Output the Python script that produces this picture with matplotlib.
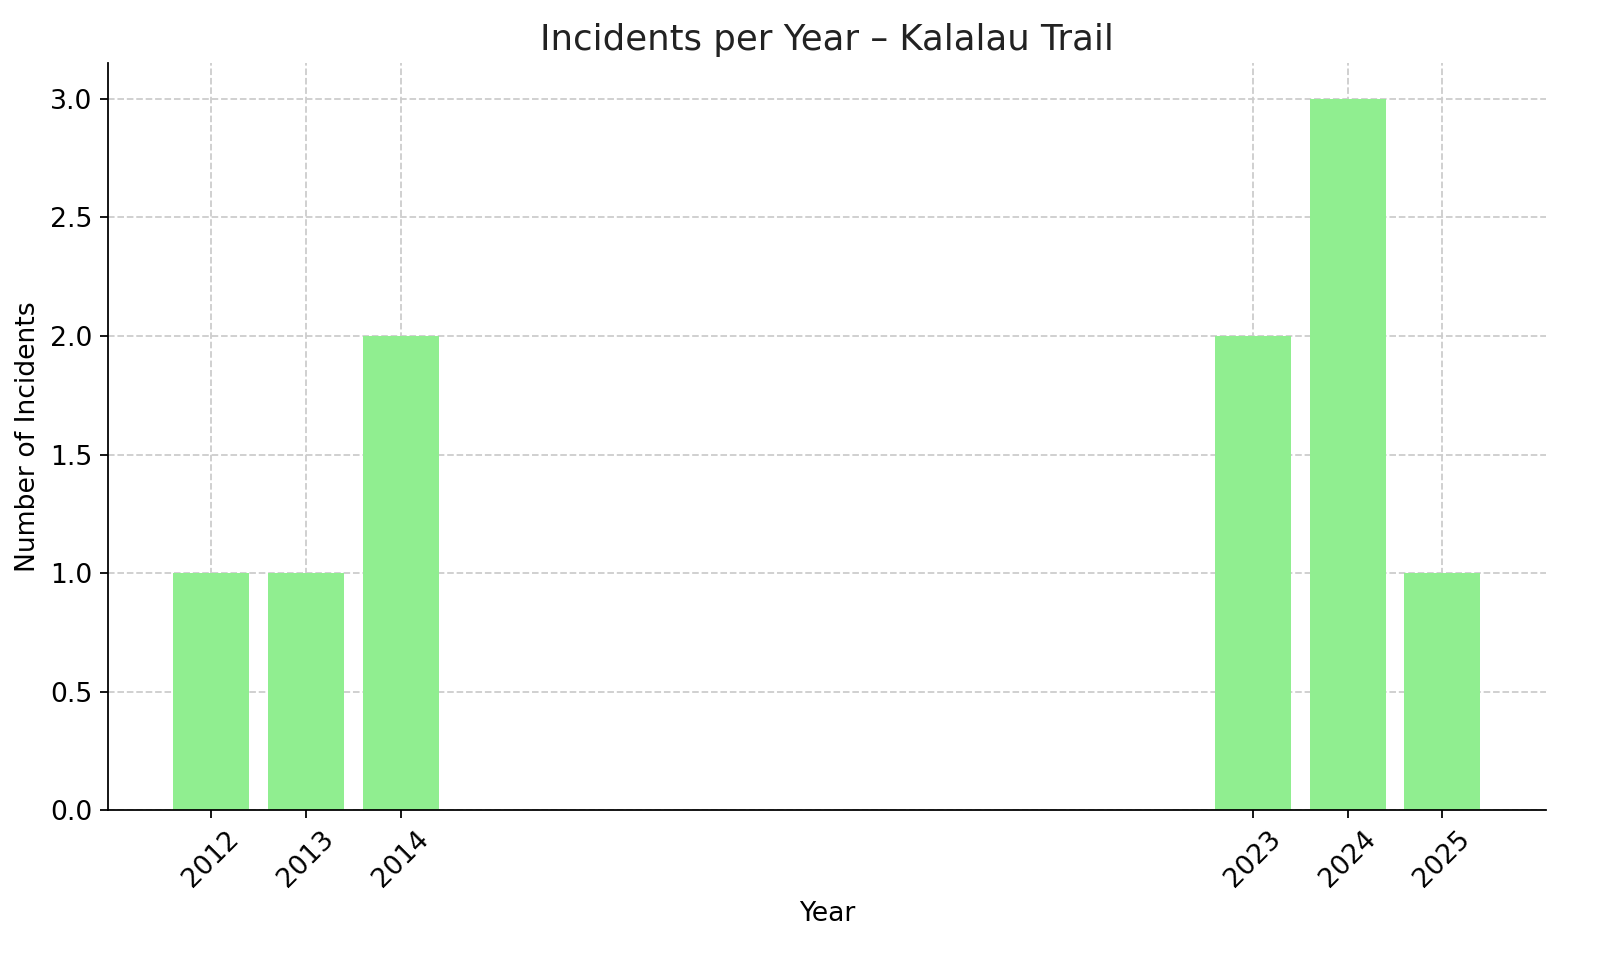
import matplotlib
matplotlib.use("Agg")
import matplotlib.pyplot as plt

years = [2012, 2013, 2014, 2023, 2024, 2025]
incidents = [1, 1, 2, 2, 3, 1]
year_labels = ["2012", "2013", "2014", "2023", "2024", "2025"]

fig, ax = plt.subplots(figsize=(10, 6), dpi=160)
fig.subplots_adjust(left=0.0675, right=0.966, top=0.934, bottom=0.156)
ax.bar(years, incidents, width=0.8, color="lightgreen", zorder=2)
ax.set_xticks(years)
ax.set_xticklabels(year_labels, rotation=45, fontsize=12)
ax.tick_params(axis="y", labelsize=12)
ax.set_title("Incidents per Year – Kalalau Trail", fontsize=16, color="#222222")
ax.set_xlabel("Year", fontsize=12)
ax.set_ylabel("Number of Incidents", fontsize=12)
ax.grid(True, linestyle="--", color="#cccccc", linewidth=0.8, zorder=0)
ax.spines["top"].set_visible(False)
ax.spines["right"].set_visible(False)
fig.savefig("out.png")
